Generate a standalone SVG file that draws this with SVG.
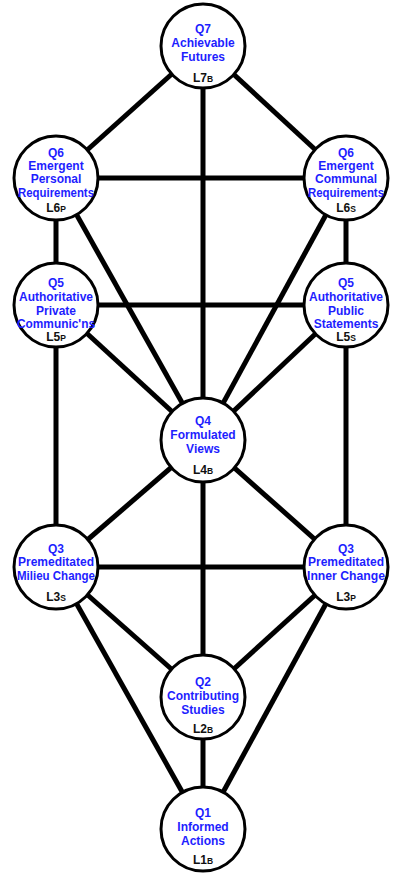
<svg xmlns="http://www.w3.org/2000/svg" width="400" height="881" viewBox="0 0 400 881">
<style>
.c{fill:#fff;stroke:#000;stroke-width:3}
.e{stroke:#000;stroke-width:5;fill:none}
.t{font-family:"Liberation Sans",Arial,sans-serif;font-weight:bold;font-size:12px;fill:#1e1eff;text-anchor:middle}
.l{font-family:"Liberation Sans",Arial,sans-serif;font-weight:bold;font-size:12px;fill:#111;text-anchor:middle}
.s{font-size:8.5px}
</style>
<rect width="400" height="881" fill="#fff"/>
<g id="connectors" class="e">
<line x1="203" y1="46" x2="56" y2="178"/>
<line x1="203" y1="46" x2="346" y2="178"/>
<line x1="203" y1="46" x2="203" y2="829"/>
<line x1="56" y1="178" x2="346" y2="178"/>
<line x1="56" y1="178" x2="56" y2="567"/>
<line x1="346" y1="178" x2="346" y2="567"/>
<line x1="56" y1="178" x2="203" y2="440"/>
<line x1="346" y1="178" x2="203" y2="440"/>
<line x1="56" y1="305" x2="346" y2="305"/>
<line x1="56" y1="305" x2="203" y2="440"/>
<line x1="346" y1="305" x2="203" y2="440"/>
<line x1="203" y1="440" x2="56" y2="567"/>
<line x1="203" y1="440" x2="346" y2="567"/>
<line x1="56" y1="567" x2="346" y2="567"/>
<line x1="56" y1="567" x2="203" y2="697"/>
<line x1="346" y1="567" x2="203" y2="697"/>
<line x1="56" y1="567" x2="203" y2="829"/>
<line x1="346" y1="567" x2="203" y2="829"/>
</g>
<g id="q7"><circle class="c" cx="203" cy="46" r="42"/>
<text class="t" x="203" y="33">Q7</text><text class="t" x="203" y="47">Achievable</text><text class="t" x="203" y="61">Futures</text>
<text class="l" x="203" y="82">L7<tspan class="s">B</tspan></text></g>
<g id="q6p"><circle class="c" cx="56" cy="178" r="42"/>
<text class="t" x="56" y="157">Q6</text><text class="t" x="56" y="170">Emergent</text><text class="t" x="56" y="183">Personal</text><text class="t" x="56" y="197" textLength="76" lengthAdjust="spacingAndGlyphs">Requirements</text>
<text class="l" x="56" y="212">L6<tspan class="s">P</tspan></text></g>
<g id="q6s"><circle class="c" cx="346" cy="178" r="42"/>
<text class="t" x="346" y="157">Q6</text><text class="t" x="346" y="170">Emergent</text><text class="t" x="346" y="183">Communal</text><text class="t" x="346" y="197" textLength="76" lengthAdjust="spacingAndGlyphs">Requirements</text>
<text class="l" x="346" y="212">L6<tspan class="s">S</tspan></text></g>
<g id="q5p"><circle class="c" cx="56" cy="305" r="42"/>
<text class="t" x="56" y="287">Q5</text><text class="t" x="56" y="301">Authoritative</text><text class="t" x="56" y="315">Private</text><text class="t" x="56" y="328" textLength="78" lengthAdjust="spacingAndGlyphs">Communic'ns</text>
<text class="l" x="56" y="341">L5<tspan class="s">P</tspan></text></g>
<g id="q5s"><circle class="c" cx="346" cy="305" r="42"/>
<text class="t" x="346" y="287">Q5</text><text class="t" x="346" y="301">Authoritative</text><text class="t" x="346" y="315">Public</text><text class="t" x="346" y="328">Statements</text>
<text class="l" x="346" y="341">L5<tspan class="s">S</tspan></text></g>
<g id="q4"><circle class="c" cx="203" cy="440" r="42"/>
<text class="t" x="203" y="425">Q4</text><text class="t" x="203" y="439">Formulated</text><text class="t" x="203" y="453">Views</text>
<text class="l" x="203" y="474">L4<tspan class="s">B</tspan></text></g>
<g id="q3s"><circle class="c" cx="56" cy="567" r="42"/>
<text class="t" x="56" y="553">Q3</text><text class="t" x="56" y="566">Premeditated</text><text class="t" x="56" y="580" textLength="78" lengthAdjust="spacingAndGlyphs">Milieu Change</text>
<text class="l" x="56" y="601">L3<tspan class="s">S</tspan></text></g>
<g id="q3p"><circle class="c" cx="346" cy="567" r="42"/>
<text class="t" x="346" y="553">Q3</text><text class="t" x="346" y="566">Premeditated</text><text class="t" x="346" y="580" textLength="78" lengthAdjust="spacingAndGlyphs">Inner Change</text>
<text class="l" x="346" y="601">L3<tspan class="s">P</tspan></text></g>
<g id="q2"><circle class="c" cx="203" cy="697" r="42"/>
<text class="t" x="203" y="686">Q2</text><text class="t" x="203" y="700">Contributing</text><text class="t" x="203" y="714">Studies</text>
<text class="l" x="203" y="733">L2<tspan class="s">B</tspan></text></g>
<g id="q1"><circle class="c" cx="203" cy="829" r="42"/>
<text class="t" x="203" y="817">Q1</text><text class="t" x="203" y="831">Informed</text><text class="t" x="203" y="845">Actions</text>
<text class="l" x="203" y="864">L1<tspan class="s">B</tspan></text></g>
</svg>
